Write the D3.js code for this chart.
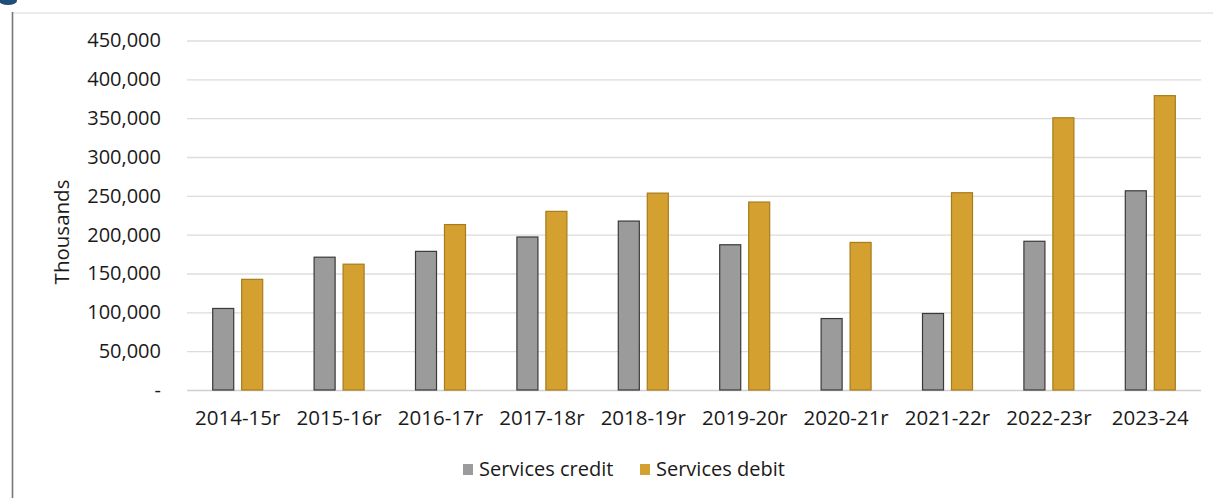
<!DOCTYPE html>
<html><head><meta charset="utf-8">
<script src="https://cdn.jsdelivr.net/npm/d3@7"></script>
<style>
html,body{margin:0;padding:0;background:#fff;}
svg{display:block;}
text{font-family:"Open Sans","Noto Sans",sans-serif;fill:#1a1a1a;}
</style></head>
<body>
<svg id="chart" width="1213" height="498"></svg>
<script>
const categories = ["2014-15r","2015-16r","2016-17r","2017-18r","2018-19r","2019-20r","2020-21r","2021-22r","2022-23r","2023-24"];
const seriesNames = ["Services credit","Services debit"];
const credit = [105000,171000,178500,197000,217500,187000,92000,98500,191500,256500];
const debit  = [142500,162000,213000,230000,253500,242000,190000,254000,350500,379000];
const yTicks = [0,50000,100000,150000,200000,250000,300000,350000,400000,450000];
const colors = ["#9b9b9b","#d4a030"];
const strokes = ["#3a3a3a","#a87c1c"];

const svg = d3.select("#chart");
const m = {left:187, right:1201, top:40.5, bottom:390};

// frame lines
svg.append("line").attr("x1",12).attr("x2",1213).attr("y1",13).attr("y2",13).attr("stroke","#d8d8d8").attr("stroke-width",1.2);
svg.append("line").attr("x1",12.5).attr("x2",12.5).attr("y1",12).attr("y2",498).attr("stroke","#777").attr("stroke-width",1.6);
svg.append("ellipse").attr("cx",8).attr("cy",1).attr("rx",9).attr("ry",4).attr("fill","#1f4e79");

const x0 = d3.scaleBand().domain(categories).range([m.left,m.right]).paddingInner(0).paddingOuter(0);
const x1 = d3.scaleBand().domain(seriesNames).range([x0.bandwidth()/2-25.5, x0.bandwidth()/2+25.5]).paddingInner(0.24);
const y = d3.scaleLinear().domain([0,450000]).range([m.bottom,m.top]);

// gridlines
const yAxis = d3.axisLeft(y).tickValues(yTicks)
  .tickSize(-(m.right-m.left)).tickPadding(26)
  .tickFormat(d => d===0 ? "-" : d3.format(",")(d));
const gy = svg.append("g").attr("transform",`translate(${m.left},0)`).call(yAxis);
gy.select(".domain").remove();
gy.selectAll(".tick line").attr("stroke",d=>d===0?"#cfcfcf":"#dcdcdc").attr("stroke-width",1.3);
gy.selectAll(".tick text").attr("font-size","20px").attr("fill","#1a1a1a").attr("x",-26);

// bars
const data = categories.map((c,i)=>({cat:c, vals:[credit[i],debit[i]]}));
const groups = svg.append("g").selectAll("g").data(data).join("g")
  .attr("transform",d=>`translate(${x0(d.cat)},0)`);
groups.selectAll("rect").data(d=>d.vals.map((v,j)=>({key:seriesNames[j],v,j}))).join("rect")
  .attr("x",d=>x1(d.key)+0.5)
  .attr("width",x1.bandwidth()-1)
  .attr("y",d=>y(d.v))
  .attr("height",d=>m.bottom-y(d.v))
  .attr("fill",d=>colors[d.j])
  .attr("stroke",d=>strokes[d.j])
  .attr("stroke-width",1.2);

// x axis labels
const xAxis = d3.axisBottom(x0).tickSize(0).tickPadding(20);
const gx = svg.append("g").attr("transform",`translate(0,${m.bottom})`).call(xAxis);
gx.select(".domain").remove();
gx.selectAll(".tick text").attr("font-size","20.5px").attr("fill","#1a1a1a");

// y title
svg.append("text").attr("transform","translate(69,232) rotate(-90)")
  .attr("text-anchor","middle").attr("font-size","20.5px").text("Thousands");

// legend
const legend = [{name:seriesNames[0],x:463,c:colors[0]},{name:seriesNames[1],x:640,c:colors[1]}];
const lg = svg.append("g").selectAll("g").data(legend).join("g").attr("transform",d=>`translate(${d.x},0)`);
lg.append("rect").attr("x",0).attr("y",464).attr("width",10).attr("height",11).attr("fill",d=>d.c);
lg.append("text").attr("x",16).attr("y",476).attr("font-size","20px").text(d=>d.name);
</script>
</body></html>
